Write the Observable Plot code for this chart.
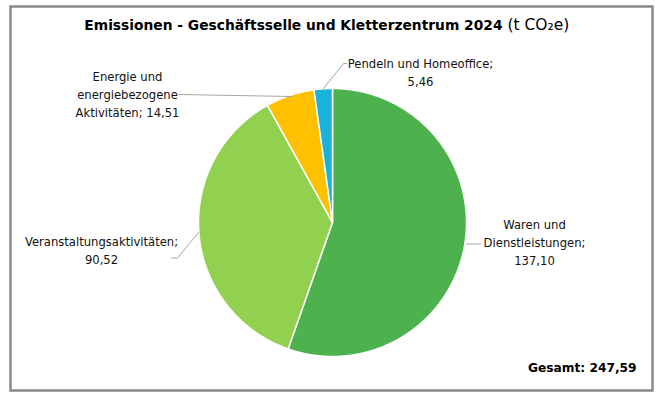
<!DOCTYPE html>
<html>
<head>
<meta charset="utf-8">
<script src="https://cdn.jsdelivr.net/npm/d3@7"></script>
<script src="https://cdn.jsdelivr.net/npm/@observablehq/plot@0.6"></script>
<style>
  html, body { margin: 0; padding: 0; background: #fff; }
  #chart svg { display: block; }
</style>
</head>
<body>
<div id="chart"></div>
<script>
// ---- data ----
const categories = ["Waren und Dienstleistungen", "Veranstaltungsaktivitäten", "Energie und energiebezogene Aktivitäten", "Pendeln und Homeoffice"];
const values = [137.10, 90.52, 14.51, 5.46];
const valueLabels = ["137,10", "90,52", "14,51", "5,46"];
const labelTexts = [
  "Waren und\nDienstleistungen;\n137,10",
  "Veranstaltungsaktivitäten;\n90,52",
  "Energie und\nenergiebezogene\nAktivitäten; 14,51",
  "Pendeln und Homeoffice;\n5,46"
];
const colors = ["#4DB24E", "#92D050", "#FFC000", "#1AB2D6"];
const totalLabel = "Gesamt: 247,59";
const titleBold = "Emissionen - Geschäftsselle und Kletterzentrum 2024";
const titleNormal = " (t CO₂e)";

// ---- layout (pixels) ----
const W = 660, H = 396;
const cx = 332, cy = 222, R = 134;
const labelPos = [[534, 241], [101, 248.5], [127, 93], [420, 71]];
const leaders = [
  [[466, 243.5], [480, 243.5]],
  [[171, 257.5], [177, 257.5], [198, 232]],
  [[178, 94], [291, 96]],
  [[323, 88], [343, 63], [346, 63]]
];

const pie = d3.pie().sort(null).value(d => d)(values);
const slices = pie.map((p, i) => {
  const pts = [[cx, cy]];
  const n = Math.max(4, Math.ceil((p.endAngle - p.startAngle) / 0.005));
  for (let k = 0; k <= n; k++) {
    const a = p.startAngle + (p.endAngle - p.startAngle) * k / n;
    pts.push([cx + R * Math.sin(a), cy - R * Math.cos(a)]);
  }
  pts.push([cx, cy]);
  return {pts, color: colors[i]};
});

const font = "Tahoma, 'DejaVu Sans', sans-serif";

const chart = Plot.plot({
  width: W,
  height: H,
  marginLeft: 10,
  marginRight: 8,
  marginTop: 6,
  marginBottom: 6,
  x: {domain: [10, 652], axis: null},
  y: {domain: [390, 6], axis: null},
  style: {fontFamily: font, background: "#fff", overflow: "visible"},
  marks: [
    Plot.frame({stroke: "#8a8a8a", strokeWidth: 2.5}),
    ...slices.map(s => Plot.line(s.pts, {x: d => d[0], y: d => d[1], fill: s.color, stroke: "white", strokeWidth: 1.5, strokeLinejoin: "round"})),
    ...leaders.map(l => Plot.line(l, {x: d => d[0], y: d => d[1], stroke: "#a6a6a6", strokeWidth: 1})),
    Plot.text(labelTexts, {x: (d, i) => labelPos[i][0], y: (d, i) => labelPos[i][1], text: d => d, fontSize: 11.6, lineHeight: 1.55, fill: "#111", textAnchor: "middle"}),
    Plot.text([titleBold], {x: 502, y: 25, text: d => d, fontSize: 13.8, fontWeight: "bold", textAnchor: "end", fill: "#000"}),
    Plot.text([titleNormal], {x: 502, y: 25, text: d => d, fontSize: 15.5, textAnchor: "start", fill: "#000"}),
    Plot.text([totalLabel], {x: 636, y: 368, text: d => d, fontSize: 12.2, fontWeight: "bold", textAnchor: "end", fill: "#000"})
  ]
});
document.getElementById("chart").appendChild(chart);
</script>
</body>
</html>
